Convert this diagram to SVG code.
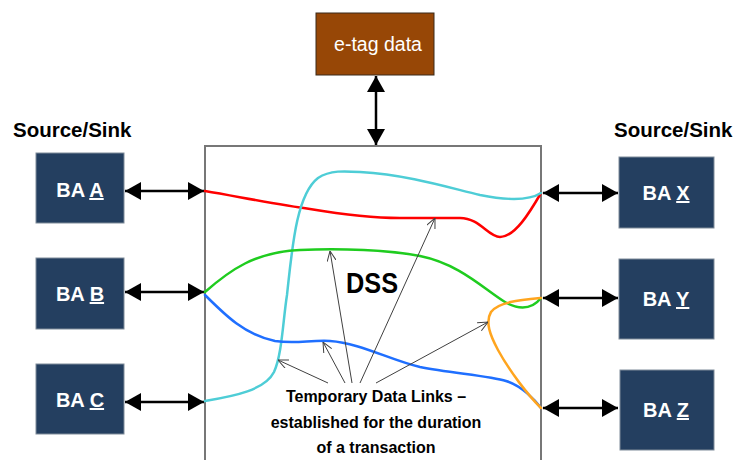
<svg xmlns="http://www.w3.org/2000/svg" width="746" height="460" viewBox="0 0 746 460">
<style>
.ba{fill:#243F60;stroke:#7f8c99;stroke-width:1}
.bat{font-family:"Liberation Sans",Arial,sans-serif;font-weight:bold;font-size:20px;fill:#fff;text-anchor:middle}
.u{text-decoration:underline}
.ss{font-family:"Liberation Sans",Arial,sans-serif;font-weight:bold;font-size:20.5px;fill:#000}
.lbl{font-family:"Liberation Sans",Arial,sans-serif;font-weight:bold;font-size:16px;fill:#000;text-anchor:middle}
.dbl{stroke:#000;stroke-width:2.5;fill:none;marker-start:url(#big);marker-end:url(#big)}
.thin{stroke:#404040;stroke-width:1;fill:none;marker-end:url(#open)}
.link{fill:none;stroke-width:2.5;stroke-linecap:round}
</style>
<defs>
<marker id="big" viewBox="0 0 16 18" refX="16" refY="9" markerWidth="16" markerHeight="18" markerUnits="userSpaceOnUse" orient="auto-start-reverse">
<path d="M0,0 L16,9 L0,18 Z" fill="#000"/>
</marker>
<marker id="open" viewBox="0 0 10 10" refX="10" refY="5" markerWidth="10" markerHeight="10" markerUnits="userSpaceOnUse" orient="auto">
<path d="M0,0.5 L10,5 L0,9.5" fill="none" stroke="#404040" stroke-width="1"/>
</marker>
</defs>

<g id="dss">
<rect x="205" y="146" width="336" height="330" fill="#fff" stroke="#777" stroke-width="2"/>
<text x="372" y="293" font-family="'Liberation Sans',Arial,sans-serif" font-weight="bold" font-size="30" textLength="52" lengthAdjust="spacingAndGlyphs" text-anchor="middle">DSS</text>
</g>

<g id="etag">
<rect x="316" y="13" width="118" height="62" fill="#974706" stroke="#3a2a1a" stroke-width="1"/>
<text x="378" y="51" font-family="'Liberation Sans',Arial,sans-serif" font-size="19.5" fill="#fff" text-anchor="middle">e-tag data</text>
</g>

<g id="labels">
<text class="ss" x="13" y="137">Source/Sink</text>
<text class="ss" x="614" y="137">Source/Sink</text>
</g>

<g id="ba-a"><rect class="ba" x="36" y="153" width="88" height="70"/><text class="bat" x="80" y="197">BA <tspan class="u">A</tspan></text></g>
<g id="ba-b"><rect class="ba" x="36" y="258" width="88" height="71"/><text class="bat" x="80" y="301">BA <tspan class="u">B</tspan></text></g>
<g id="ba-c"><rect class="ba" x="36" y="364" width="88" height="70"/><text class="bat" x="80" y="407">BA <tspan class="u">C</tspan></text></g>
<g id="ba-x"><rect class="ba" x="619" y="157" width="95" height="71"/><text class="bat" x="666" y="200">BA <tspan class="u">X</tspan></text></g>
<g id="ba-y"><rect class="ba" x="619" y="259" width="95" height="80"/><text class="bat" x="666" y="306">BA <tspan class="u">Y</tspan></text></g>
<g id="ba-z"><rect class="ba" x="620" y="370" width="94" height="80"/><text class="bat" x="666" y="417">BA <tspan class="u">Z</tspan></text></g>

<g id="connectors">
<line class="dbl" x1="125" y1="191" x2="204" y2="191"/>
<line class="dbl" x1="125" y1="292" x2="204" y2="292"/>
<line class="dbl" x1="125" y1="402" x2="204" y2="402"/>
<line class="dbl" x1="543" y1="193" x2="618" y2="193"/>
<line class="dbl" x1="543" y1="298" x2="618" y2="298"/>
<line class="dbl" x1="543" y1="408" x2="618" y2="408"/>
<line class="dbl" x1="376" y1="76" x2="376" y2="145"/>

<path class="link" stroke="#FF0000" d="M205,191 C240,197 280,205 310,209 C340,214 370,218 400,218 L460,218 C480,218 488,237 500,237 C515,237 530,212 541,193"/>
<path class="link" stroke="#4ECDD6" d="M205,401 C235,396 265,390 274,372 C282,355 283,320 287,295 C292,250 296,195 318,178 C330,170 345,171 360,172 C410,175 450,188 480,195 C510,201 530,200 541,193"/>
<path class="link" stroke="#1FCC1F" d="M205,292 C230,270 255,252 300,250 C340,248 390,250 420,256 C460,264 485,290 505,302 C515,308 530,312 541,298"/>
<path class="link" stroke="#1F6FFF" d="M205,295 C225,315 245,335 275,341 C295,344 310,340 330,341 C360,343 390,360 420,367 C450,373 490,376 506,381 C522,386 535,400 541,408"/>
<path class="link" stroke="#FFA51F" d="M541,298 C520,300 498,302 491,312 C485,322 490,335 498,350 C510,372 528,395 541,408"/>

<line class="thin" x1="328" y1="383" x2="278" y2="360"/>
<line class="thin" x1="345" y1="383" x2="323" y2="342"/>
<line class="thin" x1="352" y1="383" x2="330" y2="251"/>
<line class="thin" x1="360" y1="383" x2="435" y2="218"/>
<line class="thin" x1="376" y1="383" x2="488" y2="322"/>
</g>

<g id="note">
<text class="lbl" x="376" y="402">Temporary Data Links –</text>
<text class="lbl" x="376" y="428">established for the duration</text>
<text class="lbl" x="376" y="453">of a transaction</text>
</g>
</svg>
